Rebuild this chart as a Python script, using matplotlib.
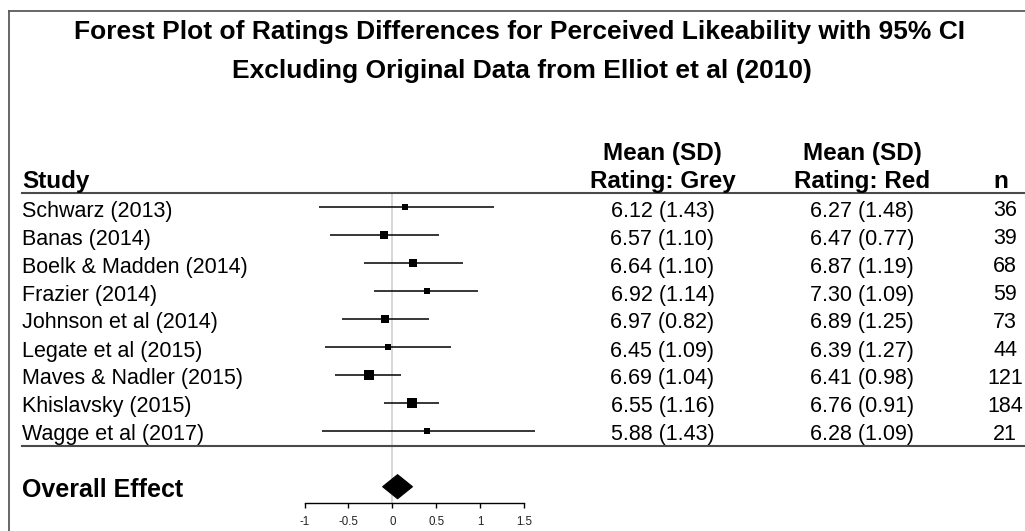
import matplotlib
matplotlib.use("Agg")
import matplotlib.pyplot as plt
from matplotlib import transforms
from matplotlib.lines import Line2D
from matplotlib.patches import Polygon

plt.rcParams['font.family'] = ['Liberation Sans', 'DejaVu Sans']

# ---------------- data ----------------
title_lines = ["Forest Plot of Ratings Differences for Perceived Likeability with 95% CI",
               "Excluding Original Data from Elliot et al (2010)"]
studies = ["Schwarz (2013)", "Banas (2014)", "Boelk & Madden (2014)", "Frazier (2014)",
           "Johnson et al (2014)", "Legate et al (2015)", "Maves & Nadler (2015)",
           "Khislavsky (2015)", "Wagge et al (2017)"]
grey_stats = ["6.12 (1.43)", "6.57 (1.10)", "6.64 (1.10)", "6.92 (1.14)", "6.97 (0.82)",
              "6.45 (1.09)", "6.69 (1.04)", "6.55 (1.16)", "5.88 (1.43)"]
red_stats = ["6.27 (1.48)", "6.47 (0.77)", "6.87 (1.19)", "7.30 (1.09)", "6.89 (1.25)",
             "6.39 (1.27)", "6.41 (0.98)", "6.76 (0.91)", "6.28 (1.09)"]
n_values = [36, 39, 68, 59, 73, 44, 121, 184, 21]
estimates = [0.15, -0.09, 0.24, 0.39, -0.08, -0.05, -0.27, 0.23, 0.40]
ci_lower = [-0.84, -0.71, -0.32, -0.21, -0.57, -0.77, -0.65, -0.10, -0.80]
ci_upper = [1.16, 0.53, 0.80, 0.98, 0.42, 0.67, 0.10, 0.53, 1.62]
box_weight = [4.7, 6.7, 6.7, 6.0, 6.7, 5.3, 8.3, 9.7, 5.0]   # relative box size (weight)
overall_label = "Overall Effect"
overall_est = 0.06
overall_lower = -0.11
overall_upper = 0.23
x_ticks = [-1, -0.5, 0, 0.5, 1, 1.5]
x_tick_labels = ["-1", "-0.5", "0", "0.5", "1", "1.5"]
header_study = "Study"
header_grey = ["Mean (SD)", "Rating: Grey"]
header_red = ["Mean (SD)", "Rating: Red"]
header_n = "n"

# ---------------- layout ----------------
W, H = 1025, 531
fig = plt.figure(figsize=(W / 100, H / 100), dpi=100)
fig.patch.set_facecolor("white")

ROW0_PX, ROW_PX = 206.7, 28.0      # pixel y of first row, row pitch
ZERO_PX, UNIT_PX = 392.3, 87.8     # pixel x of 0, pixels per unit
AXIS_PX = 503.0

def row_of(px):
    return (px - ROW0_PX) / ROW_PX

def fx(px):
    return px / W

def fy(px):
    return 1 - px / H

ax = fig.add_axes([0, fy(AXIS_PX), 1, AXIS_PX / H])
ax.set_xlim((0 - ZERO_PX) / UNIT_PX, (W - ZERO_PX) / UNIT_PX)
ax.set_ylim(row_of(AXIS_PX), row_of(0))
ax.patch.set_alpha(0)
for s in ["top", "left", "right"]:
    ax.spines[s].set_visible(False)
ax.spines["bottom"].set_bounds(x_ticks[0], x_ticks[-1])
ax.spines["bottom"].set_linewidth(1.0)
ax.set_yticks([])
ax.set_xticks(x_ticks, labels=x_tick_labels)
ax.tick_params(axis="x", direction="out", length=3.5, width=1.0, labelsize=8.3,
               pad=6, labelcolor="#222222")

blend = transforms.blended_transform_factory(fig.transFigure, ax.transData)

n_rows = len(studies)
overall_row = n_rows + 1
head_line_row = row_of(192.5)
foot_line_row = row_of(446.0)

# reference line at zero
ax.plot([0, 0], [head_line_row, row_of(AXIS_PX)], color="#cfcfcf", lw=1.2, zorder=1)

# CIs and boxes
for i in range(n_rows):
    ax.plot([ci_lower[i], ci_upper[i]], [i, i], color="black", lw=1.1, zorder=2,
            solid_capstyle="butt")
    ax.plot(estimates[i], i, marker="s", ms=box_weight[i] * 0.8, color="black",
            mew=0, zorder=3)

# overall diamond
dh = 0.43
ax.add_patch(Polygon([(overall_lower, overall_row), (overall_est, overall_row - dh),
                      (overall_upper, overall_row), (overall_est, overall_row + dh)],
                     closed=True, facecolor="black", edgecolor="black", lw=0.8, zorder=3))

# separator lines
for r in (head_line_row, foot_line_row):
    ax.add_line(Line2D([fx(22), 1], [r, r], transform=blend, color="#4a4a4a", lw=1.5,
                       clip_on=False))

# table text
base_off = 9.8 / ROW_PX
body_fs = 15.5
for i in range(n_rows):
    y = i + base_off
    ax.text(fx(22), y, studies[i], transform=blend, fontsize=body_fs, ha="left", va="baseline")
    ax.text(fx(662.5), y, grey_stats[i], transform=blend, fontsize=body_fs, ha="center", va="baseline")
    ax.text(fx(862), y, red_stats[i], transform=blend, fontsize=body_fs, ha="center", va="baseline")
    ax.text(fx(1005), y, str(n_values[i]), transform=blend, fontsize=body_fs, ha="center", va="baseline")

ax.text(fx(22), overall_row + 10.0 / ROW_PX, overall_label, transform=blend, fontsize=18,
        fontweight="bold", ha="left", va="baseline")

# headers
hdr_fs = 17.5
fig.text(fx(22), fy(188.3), header_study, fontsize=hdr_fs, fontweight="bold", ha="left", va="baseline")
fig.text(fx(662.5), fy(160), header_grey[0], fontsize=hdr_fs, fontweight="bold", ha="center", va="baseline")
fig.text(fx(662.5), fy(188.3), header_grey[1], fontsize=hdr_fs, fontweight="bold", ha="center", va="baseline")
fig.text(fx(862), fy(160), header_red[0], fontsize=hdr_fs, fontweight="bold", ha="center", va="baseline")
fig.text(fx(862), fy(188.3), header_red[1], fontsize=hdr_fs, fontweight="bold", ha="center", va="baseline")
fig.text(fx(1001), fy(188.3), header_n, fontsize=hdr_fs, fontweight="bold", ha="center", va="baseline")

# title
fig.text(fx(520), fy(39.3), title_lines[0], fontsize=19, fontweight="bold", ha="center", va="baseline")
fig.text(fx(522), fy(78.3), title_lines[1], fontsize=19, fontweight="bold", ha="center", va="baseline")

# outer border (top and left)
fig.add_artist(Line2D([fx(9), 1], [fy(10.5), fy(10.5)], transform=fig.transFigure,
                      color="#5a5a5a", lw=1.3))
fig.add_artist(Line2D([fx(9), fx(9)], [fy(10.5), 0], transform=fig.transFigure,
                      color="#5a5a5a", lw=1.3))

fig.savefig("out.png", dpi=100, facecolor="white")
